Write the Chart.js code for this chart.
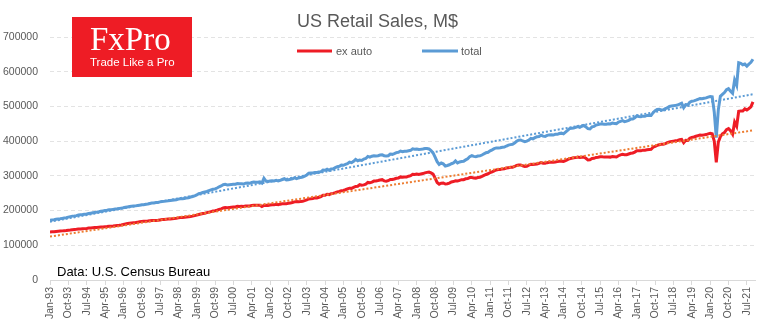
<!DOCTYPE html>
<html>
<head>
<meta charset="utf-8">
<script src="https://cdn.jsdelivr.net/npm/chart.js@4.4.1/dist/chart.umd.min.js"></script>
<style>
  body { margin: 0; background: #fff; }
  #wrap { width: 770px; height: 330px; }
</style>
</head>
<body>
<div id="wrap"><canvas id="sales" width="770" height="330"></canvas></div>
<script>
// monthly values, thousands of M$, Jan-93 .. Oct-21
const exAuto = [
  138.5, 139, 139, 140, 140.5, 141, 141.5, 142, 142.5, 143.5, 144, 145,         // 1993
  145.5, 146, 147, 147, 147.5, 148, 148.5, 149.5, 150, 150.5, 151, 151.5,       // 1994
  152, 152.5, 153, 153.5, 154, 155, 155, 155.5, 156.5, 157, 157.5, 158.5,       // 1995
  160, 161.5, 162.5, 163.5, 164.5, 165, 165.5, 166.5, 167.5, 168.5, 169, 169.5, // 1996
  170, 171, 171.5, 171.5, 171.5, 172, 173, 174, 174.5, 175, 175.5, 176,         // 1997
  176.5, 177, 177.5, 179, 180, 180, 180.5, 181.5, 182, 183, 184, 185.5,         // 1998
  187, 188.5, 190, 191.5, 192.5, 194, 195.5, 197, 198.5, 199.5, 201, 203.5,     // 1999
  205, 207.5, 209, 208.5, 209, 209.5, 210, 210.5, 212.5, 212, 212.5, 212,       // 2000
  213.5, 213.5, 213, 214.5, 215.5, 215, 215, 215.5, 211.5, 214.5, 215.5, 215,   // 2001
  216, 217, 216.5, 218, 217, 218.5, 219.5, 220, 220, 221, 222, 223,             // 2002
  225, 226, 225.5, 226, 227, 228.5, 230.5, 233.5, 234, 235, 236.5, 236.5,       // 2003
  238.5, 240.5, 244, 244, 247, 246, 248.5, 249.5, 251.5, 254, 255, 257,         // 2004
  258, 260, 262.5, 264.5, 264, 267, 269.5, 270, 274.5, 273, 274, 276,           // 2005
  281, 280, 282, 285, 285.5, 286.5, 288, 289, 285.5, 284.5, 286, 289.5,         // 2006
  289.5, 291, 293, 294, 297, 296, 296.5, 297, 299, 300.5, 304.5, 304,           // 2007
  305.5, 304, 305.5, 306.5, 308.5, 310, 311, 308.5, 305, 293.5, 281, 276,       // 2008
  279, 279.5, 276.5, 277.5, 279, 282.5, 283.5, 285.5, 285, 287, 289, 289,       // 2009
  291.5, 292, 295, 295, 294, 293.5, 295, 296, 298.5, 301.5, 304, 306,           // 2010
  309.5, 311.5, 314.5, 317, 318.5, 318.5, 320, 320.5, 322.5, 323.5, 324.5, 324.5, // 2011
  327, 330, 331.5, 331.5, 329, 327, 327.5, 330.5, 333.5, 333, 333.5, 334,       // 2012
  336, 338.5, 336.5, 336.5, 338, 339, 339.5, 339.5, 340, 341, 342, 342,         // 2013
  341.5, 344, 347, 349.5, 350.5, 352, 352.5, 354, 353, 353.5, 354, 350.5,       // 2014
  346, 346.5, 350, 350.5, 353, 353.5, 355, 355, 354, 354, 354.5, 354,           // 2015
  355.5, 355, 354.5, 358, 360.5, 362, 361, 361, 363, 365, 366, 368.5,           // 2016
  372.5, 372, 372, 374, 374, 375, 376, 376.5, 382.5, 385, 388, 389.5,           // 2017
  391, 391, 393, 395.5, 398, 399, 400, 401, 402, 404, 405, 395.5,               // 2018
  402.5, 402, 408.5, 411, 412, 414, 416, 417.5, 417, 418, 419, 421,             // 2019
  422.5, 421, 400, 339, 397, 413, 421, 424.5, 433, 436, 430, 420,               // 2020
  455, 443, 486, 487, 487, 493, 490, 494, 499, 513                              // 2021
];
const total = [
  172, 173, 173.5, 175, 176, 176.5, 177.5, 178.5, 179.5, 181, 182.5, 184,       // 1993
  184.5, 185.5, 187.5, 188, 188.5, 189.5, 190, 191.5, 192.5, 193.5, 194.5, 195.5, // 1994
  196.5, 198, 199, 200, 201, 202.5, 202.5, 203.5, 204.5, 205, 206, 207,         // 1995
  208, 209.5, 210.5, 211.5, 212.5, 213, 213.5, 214.5, 215.5, 216.5, 217, 218,   // 1996
  219, 220.5, 221.5, 222, 223, 223.5, 225, 226, 226.5, 227.5, 228, 229,         // 1997
  230, 230.5, 231, 233, 234, 234, 234.5, 236.5, 237, 239, 240.5, 242.5,         // 1998
  245, 248.5, 250, 252, 253.5, 255, 257.5, 259.5, 261.5, 262.5, 265, 268.5,     // 1999
  271, 274.5, 275.5, 274, 274.5, 275, 275.5, 276, 278, 277.5, 277.5, 276.5,     // 2000
  279, 279.5, 278.5, 281, 282, 281.5, 281.5, 282.5, 279, 293, 285, 284,         // 2001
  285, 286, 285.5, 287, 285.5, 287, 289.5, 292, 288.5, 289, 290, 291.5,         // 2002
  294, 292, 294, 295.5, 296.5, 299, 302.5, 307.5, 308, 308.5, 310, 310,         // 2003
  311, 312, 316.5, 316, 319, 316, 320, 320.5, 323.5, 326.5, 327.5, 331,         // 2004
  330.5, 333, 335, 339.5, 338, 342, 347.5, 343.5, 345.5, 344.5, 348.5, 350,     // 2005
  356, 354, 356.5, 358, 357.5, 358, 360, 360.5, 358, 357, 358, 363,             // 2006
  362, 364, 367, 368, 371.5, 369.5, 371, 371, 372.5, 373.5, 378, 377,           // 2007
  377.5, 376, 376.5, 377.5, 379, 379, 377.5, 372.5, 366, 354, 341, 333,         // 2008
  337, 334.5, 328.5, 330, 332, 335, 337, 343, 337, 340, 341.5, 342,             // 2009
  346, 349, 355.5, 358.5, 356, 355, 357, 357.5, 360, 363.5, 366.5, 368,         // 2010
  372, 375, 378.5, 380.5, 380, 381, 382.5, 383, 386, 388.5, 390, 391,           // 2011
  394.5, 399.5, 403, 403.5, 400.5, 398.5, 400, 403, 408, 406.5, 410, 412.5,     // 2012
  413.5, 417, 414.5, 413.5, 416.5, 418, 418.5, 417.5, 419.5, 419.5, 422, 423,   // 2013
  421, 426, 431, 436, 437, 438, 439.5, 442, 440, 443, 445, 441,                 // 2014
  436, 435, 441, 442.5, 446.5, 447.5, 449.5, 449.5, 449, 448.5, 450, 449.5,     // 2015
  452, 451, 450.5, 455, 457, 459, 456, 457.5, 460, 463.5, 463.5, 467,           // 2016
  472.5, 471, 470.5, 472, 471.5, 474, 474.5, 474, 482, 487.5, 491, 492,         // 2017
  490, 490.5, 493.5, 496, 500, 501, 502, 503, 504, 506.5, 509, 496.5,           // 2018
  505, 504.5, 512, 515, 516, 518, 520.5, 523, 522, 523.5, 524.5, 527,           // 2019
  528.5, 527.5, 484, 410, 490, 529, 534.5, 540, 548, 551, 544, 538,             // 2020
  576, 561, 626, 624, 620, 622, 616, 622, 627, 636                              // 2021
];

// linear trend lines: month index -> value (thousands of M$)
const trendMonths = [0, 345];
const trendTotal = [168, 535];
const trendExAuto = [125, 431];

// every 9th month gets a label
const tickLabels = ['Jan-93','Oct-93','Jul-94','Apr-95','Jan-96','Oct-96','Jul-97','Apr-98',
  'Jan-99','Oct-99','Jul-00','Apr-01','Jan-02','Oct-02','Jul-03','Apr-04','Jan-05','Oct-05',
  'Jul-06','Apr-07','Jan-08','Oct-08','Jul-09','Apr-10','Jan-11','Oct-11','Jul-12','Apr-13',
  'Jan-14','Oct-14','Jul-15','Apr-16','Jan-17','Oct-17','Jul-18','Apr-19','Jan-20','Oct-20','Jul-21'];

const RED = '#EE1C25';
const BLUE = '#5B9BD5';
const ORANGE = '#ED7D31';
const GREY_TXT = '#595959';

const toPoints = (arr) => arr.map((v, i) => ({ x: i, y: v * 1000 }));
const trendPoints = (arr) => arr.map((v, i) => ({ x: trendMonths[i], y: v * 1000 }));

// legend, logo and source note
const extras = {
  id: 'extras',
  afterDraw(chart) {
    const ctx = chart.ctx;
    ctx.save();
    // legend
    ctx.lineWidth = 3;
    ctx.strokeStyle = RED;
    ctx.beginPath(); ctx.moveTo(297, 51); ctx.lineTo(332, 51); ctx.stroke();
    ctx.strokeStyle = BLUE;
    ctx.beginPath(); ctx.moveTo(422, 51); ctx.lineTo(458, 51); ctx.stroke();
    ctx.fillStyle = GREY_TXT;
    ctx.font = '11px "Liberation Sans", Arial, sans-serif';
    ctx.textBaseline = 'alphabetic';
    ctx.textAlign = 'left';
    ctx.fillText('ex auto', 336, 55);
    ctx.fillText('total', 461, 55);

    // logo
    ctx.fillStyle = RED;
    ctx.fillRect(72, 17, 120, 60);
    ctx.fillStyle = '#fff';
    ctx.font = '33px "Liberation Serif", "Times New Roman", serif';
    ctx.fillText('FxPro', 90, 50);
    ctx.font = '11.5px "Liberation Sans", Arial, sans-serif';
    ctx.fillText('Trade Like a Pro', 90, 66);

    // source
    ctx.fillStyle = '#000';
    ctx.font = '13px "Liberation Sans", Arial, sans-serif';
    ctx.fillText('Data: U.S. Census Bureau', 57, 276);
    ctx.restore();
  }
};

new Chart('sales', {
  type: 'line',
  data: {
    datasets: [
      {
        label: 'ex auto trend',
        data: trendPoints(trendExAuto),
        borderColor: ORANGE,
        borderWidth: 2,
        borderDash: [2, 2],
        pointRadius: 0,
        fill: false,
        order: 0,
      },
      {
        label: 'total trend',
        data: trendPoints(trendTotal),
        borderColor: BLUE,
        borderWidth: 2,
        borderDash: [2, 2],
        pointRadius: 0,
        fill: false,
        order: 0,
      },
      {
        label: 'ex auto',
        data: toPoints(exAuto),
        borderColor: RED,
        backgroundColor: RED,
        borderWidth: 3,
        pointRadius: 0,
        fill: false,
        order: 2,
      },
      {
        label: 'total',
        data: toPoints(total),
        borderColor: BLUE,
        backgroundColor: BLUE,
        borderWidth: 3,
        pointRadius: 0,
        fill: false,
        order: 1,
      },
    ],
  },
  options: {
    responsive: false,
    animation: false,
    layout: { padding: { top: 0, right: 15, left: 0, bottom: 0 } },
    plugins: {
      legend: { display: false },
      tooltip: { enabled: false },
      title: {
        display: true,
        text: 'US Retail Sales, M$',
        color: GREY_TXT,
        font: { family: '"Liberation Sans", Arial, sans-serif', size: 18, weight: 'normal' },
        padding: { top: 11, bottom: 4.4 },
      },
    },
    scales: {
      x: {
        type: 'linear',
        min: 0,
        max: 346,
        afterFit: (s) => { s.height = 50; },
        border: { display: true, color: '#d9d9d9' },
        grid: { drawOnChartArea: false, drawTicks: true, tickLength: 5, color: '#d9d9d9' },
        ticks: {
          stepSize: 9,
          includeBounds: false,
          autoSkip: false,
          maxRotation: 90,
          minRotation: 90,
          padding: 2,
          color: GREY_TXT,
          font: { family: '"Liberation Sans", Arial, sans-serif', size: 10.5 },
          callback: (v) => tickLabels[v / 9],
        },
      },
      y: {
        min: 0,
        max: 700000,
        afterFit: (s) => { s.width = 50; },
        border: { display: false, dash: [4, 3] },
        grid: {
          drawTicks: false,
          color: (c) => (c.tick.value === 0 ? 'rgba(0,0,0,0)' : '#e3e3e3'),
        },
        ticks: {
          stepSize: 100000,
          padding: 12,
          color: GREY_TXT,
          font: { family: '"Liberation Sans", Arial, sans-serif', size: 10.5 },
          callback: (v) => String(v),
        },
      },
    },
  },
  plugins: [extras],
});
</script>
</body>
</html>
